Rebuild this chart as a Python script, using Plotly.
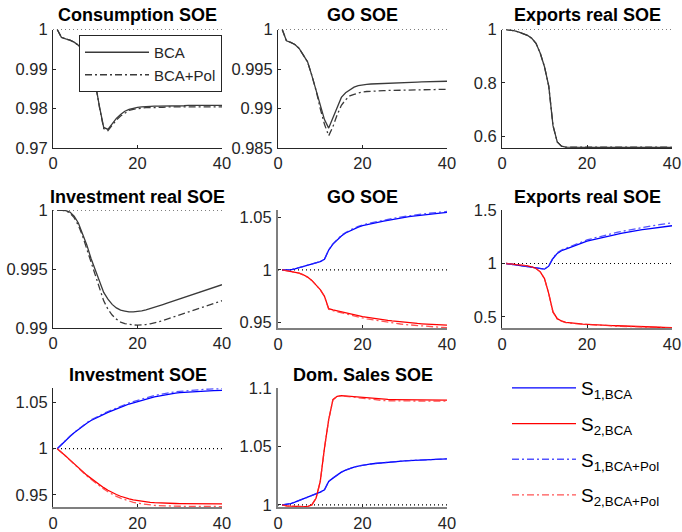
import plotly.graph_objects as go

# ---------------- data (t = 1..40) ----------------
T = list(range(1, 41))
X_TICKS = [0, 20, 40]
X_RANGE = [0, 40]
REF = 1.0

C_BCA = [1.0000, 0.9980, 0.9976, 0.9973, 0.9968, 0.9960, 0.9948, 0.9928, 0.9900, 0.9865,
         0.9805, 0.9752, 0.9747, 0.9762, 0.9775, 0.9785, 0.9793, 0.9798, 0.9801, 0.9803,
         0.9804, 0.9805, 0.9805, 0.9806, 0.9806, 0.9806, 0.9807, 0.9807, 0.9807, 0.9807,
         0.9807, 0.9808, 0.9808, 0.9808, 0.9808, 0.9808, 0.9808, 0.9808, 0.9808, 0.9808]
C_POL = [1.0000, 0.9980, 0.9976, 0.9973, 0.9968, 0.9960, 0.9948, 0.9928, 0.9900, 0.9864,
         0.9803, 0.9749, 0.9744, 0.9758, 0.9771, 0.9781, 0.9789, 0.9795, 0.9798, 0.9800,
         0.9801, 0.9802, 0.9802, 0.9803, 0.9803, 0.9803, 0.9804, 0.9804, 0.9804, 0.9804,
         0.9804, 0.9804, 0.9804, 0.9804, 0.9804, 0.9804, 0.9804, 0.9804, 0.9804, 0.9804]

G_BCA = [1.0000, 0.99857, 0.99836, 0.9981, 0.9976, 0.99676, 0.9959, 0.9942, 0.9924, 0.9903,
         0.9886, 0.98752, 0.9888, 0.9903, 0.9914, 0.9920, 0.9924, 0.9927, 0.9929, 0.9930,
         0.99305, 0.9931, 0.99313, 0.99316, 0.9932, 0.99322, 0.99324, 0.99326, 0.99328, 0.9933,
         0.99332, 0.99334, 0.99335, 0.99337, 0.99338, 0.9934, 0.99341, 0.99342, 0.99344, 0.99345]
G_POL = [1.0000, 0.99857, 0.99836, 0.9981, 0.9976, 0.99676, 0.9959, 0.9942, 0.9923, 0.9900,
         0.9880, 0.98655, 0.9877, 0.9892, 0.9904, 0.9911, 0.9916, 0.9918, 0.9920, 0.9921,
         0.99215, 0.9922, 0.99222, 0.99224, 0.99226, 0.99228, 0.9923, 0.99231, 0.99232, 0.99233,
         0.99234, 0.99235, 0.99236, 0.99237, 0.99238, 0.99239, 0.9924, 0.99241, 0.99242, 0.99243]

E_BCA = [1.000, 0.998, 0.995, 0.990, 0.985, 0.978, 0.967, 0.948, 0.911, 0.860,
         0.787, 0.639, 0.578, 0.562, 0.558, 0.5575, 0.5572, 0.5570, 0.5570, 0.5570,
         0.5571, 0.5572, 0.5573, 0.5574, 0.5575, 0.5575, 0.5576, 0.5576, 0.5576, 0.5576,
         0.5576, 0.5576, 0.5576, 0.5576, 0.5576, 0.5576, 0.5576, 0.5576, 0.5576, 0.5576]
E_POL = [1.000, 0.998, 0.995, 0.990, 0.985, 0.978, 0.967, 0.948, 0.911, 0.860,
         0.787, 0.639, 0.578, 0.562, 0.558, 0.5578, 0.5576, 0.5575, 0.5576, 0.5578,
         0.5580, 0.5581, 0.5582, 0.5582, 0.5582, 0.5582, 0.5581, 0.5581, 0.5580, 0.5580,
         0.5579, 0.5579, 0.5578, 0.5578, 0.5578, 0.5577, 0.5577, 0.5577, 0.5577, 0.5577]

IR_BCA = [1.0000, 1.0000, 0.99995, 0.99983, 0.99948, 0.9989, 0.99805, 0.99704, 0.99589, 0.99488,
          0.99388, 0.99302, 0.99244, 0.99200, 0.99170, 0.99152, 0.99144, 0.99136, 0.99137, 0.99140,
          0.99146, 0.99154, 0.99164, 0.99175, 0.99187, 0.99199, 0.99211, 0.99223, 0.99235, 0.99247,
          0.99259, 0.99271, 0.99283, 0.99295, 0.99307, 0.99319, 0.99331, 0.99343, 0.99355, 0.99367]
IR_POL = [1.0000, 1.0000, 0.99993, 0.99975, 0.99935, 0.9987, 0.9978, 0.9967, 0.9955, 0.9944,
          0.9933, 0.9923, 0.9916, 0.9911, 0.99075, 0.9905, 0.99038, 0.9903, 0.99026, 0.99024,
          0.99025, 0.99029, 0.99035, 0.99043, 0.99052, 0.99063, 0.99075, 0.99087, 0.99099, 0.99111,
          0.99123, 0.99135, 0.99147, 0.99159, 0.99171, 0.99183, 0.99195, 0.99207, 0.99219, 0.99231]

G1_BCA = [1.0000, 0.9997, 1.0000, 1.0010, 1.0022, 1.0030, 1.0040, 1.0053, 1.0066, 1.0078,
          1.0100, 1.0188, 1.0244, 1.0288, 1.0322, 1.0350, 1.0371, 1.0390, 1.0405, 1.0419,
          1.0429, 1.0438, 1.0446, 1.0454, 1.0462, 1.0470, 1.0478, 1.0485, 1.0492, 1.0499,
          1.0505, 1.0510, 1.0515, 1.0520, 1.0525, 1.0529, 1.0533, 1.0537, 1.0541, 1.0545]
G1_POL = [1.0000, 0.9997, 1.0000, 1.0010, 1.0022, 1.0030, 1.0040, 1.0053, 1.0066, 1.0078,
          1.0100, 1.0190, 1.0247, 1.0292, 1.0327, 1.0355, 1.0377, 1.0396, 1.0412, 1.0426,
          1.0437, 1.0446, 1.0455, 1.0463, 1.0471, 1.0479, 1.0487, 1.0494, 1.0501, 1.0508,
          1.0514, 1.0519, 1.0524, 1.0529, 1.0534, 1.0538, 1.0542, 1.0546, 1.0550, 1.0554]
G2_BCA = [1.0000, 0.9994, 0.9988, 0.9978, 0.9969, 0.9953, 0.9931, 0.9900, 0.9859, 0.9813,
          0.9750, 0.9631, 0.9619, 0.9609, 0.9601, 0.9594, 0.9585, 0.9575, 0.9565, 0.9556,
          0.9549, 0.9543, 0.9537, 0.9531, 0.9525, 0.9520, 0.9515, 0.9510, 0.9505, 0.9500,
          0.9497, 0.9494, 0.9491, 0.9488, 0.9485, 0.9483, 0.9481, 0.9479, 0.9477, 0.9475]
G2_POL = [1.0000, 0.9994, 0.9988, 0.9978, 0.9969, 0.9953, 0.9931, 0.9900, 0.9859, 0.9812,
          0.9748, 0.9627, 0.9613, 0.9602, 0.9593, 0.9585, 0.9575, 0.9564, 0.9553, 0.9543,
          0.9535, 0.9528, 0.9521, 0.9514, 0.9508, 0.9502, 0.9496, 0.9491, 0.9486, 0.9481,
          0.9477, 0.9473, 0.9469, 0.9466, 0.9463, 0.9460, 0.9458, 0.9456, 0.9454, 0.9452]

X1_BCA = [1.000, 0.994, 0.9875, 0.981, 0.975, 0.969, 0.9625, 0.956, 0.950, 0.947,
          0.975, 1.047, 1.094, 1.119, 1.134, 1.150, 1.166, 1.181, 1.196, 1.209,
          1.219, 1.229, 1.238, 1.247, 1.256, 1.264, 1.273, 1.281, 1.289, 1.297,
          1.303, 1.310, 1.316, 1.322, 1.328, 1.333, 1.338, 1.343, 1.348, 1.353]
X1_POL = [1.000, 0.994, 0.9875, 0.981, 0.975, 0.969, 0.9625, 0.956, 0.950, 0.947,
          0.978, 1.052, 1.100, 1.126, 1.142, 1.159, 1.175, 1.191, 1.206, 1.220,
          1.231, 1.242, 1.252, 1.262, 1.272, 1.281, 1.290, 1.299, 1.307, 1.315,
          1.323, 1.330, 1.337, 1.344, 1.351, 1.357, 1.363, 1.369, 1.375, 1.381]
X2_BCA = [1.000, 0.997, 0.994, 0.990, 0.984, 0.978, 0.969, 0.953, 0.922, 0.859,
          0.719, 0.547, 0.484, 0.4625, 0.450, 0.444, 0.441, 0.4375, 0.434, 0.431,
          0.429, 0.427, 0.425, 0.4235, 0.422, 0.420, 0.418, 0.416, 0.414, 0.4125,
          0.411, 0.410, 0.409, 0.4075, 0.406, 0.405, 0.404, 0.403, 0.4015, 0.400]
X2_POL = [1.000, 0.997, 0.994, 0.990, 0.984, 0.978, 0.969, 0.953, 0.922, 0.858,
          0.717, 0.545, 0.482, 0.460, 0.448, 0.442, 0.438, 0.435, 0.432, 0.429,
          0.427, 0.425, 0.423, 0.421, 0.419, 0.417, 0.415, 0.413, 0.411, 0.410,
          0.409, 0.408, 0.407, 0.405, 0.404, 0.403, 0.402, 0.401, 0.400, 0.399]

I1_BCA = [1.0000, 1.0046, 1.0089, 1.0132, 1.0171, 1.0207, 1.0243, 1.0275, 1.0304, 1.0329,
          1.0351, 1.0371, 1.0391, 1.0411, 1.0429, 1.0446, 1.0464, 1.0482, 1.0496, 1.0510,
          1.0523, 1.0536, 1.0547, 1.0558, 1.0568, 1.0577, 1.0585, 1.0593, 1.0599, 1.0604,
          1.0608, 1.0612, 1.0615, 1.0618, 1.0621, 1.0623, 1.0625, 1.0627, 1.0628, 1.0629]
I1_POL = [1.0000, 1.0047, 1.0091, 1.0134, 1.0174, 1.0211, 1.0247, 1.0280, 1.0310, 1.0336,
          1.0359, 1.0380, 1.0401, 1.0421, 1.0440, 1.0458, 1.0476, 1.0494, 1.0509, 1.0523,
          1.0537, 1.0550, 1.0562, 1.0573, 1.0583, 1.0592, 1.0600, 1.0608, 1.0614, 1.0619,
          1.0624, 1.0628, 1.0632, 1.0635, 1.0638, 1.0641, 1.0643, 1.0645, 1.0647, 1.0648]
I2_BCA = [1.0000, 0.9964, 0.9921, 0.9879, 0.9836, 0.9793, 0.9750, 0.9714, 0.9679, 0.9643,
          0.9611, 0.9579, 0.9551, 0.9525, 0.9505, 0.9486, 0.9470, 0.9457, 0.9447, 0.9439,
          0.9432, 0.9425, 0.9420, 0.9417, 0.9414, 0.9412, 0.9410, 0.9409, 0.9408, 0.9407,
          0.9406, 0.9406, 0.9405, 0.9405, 0.9405, 0.9404, 0.9404, 0.9404, 0.9404, 0.9404]
I2_POL = [1.0000, 0.9963, 0.9919, 0.9876, 0.9832, 0.9788, 0.9744, 0.9707, 0.9670, 0.9632,
          0.9598, 0.9564, 0.9534, 0.9507, 0.9485, 0.9465, 0.9448, 0.9433, 0.9421, 0.9411,
          0.9403, 0.9396, 0.9391, 0.9387, 0.9384, 0.9382, 0.9380, 0.9379, 0.9378, 0.9377,
          0.9377, 0.9376, 0.9376, 0.9376, 0.9375, 0.9375, 0.9375, 0.9375, 0.9375, 0.9375]

D1_BCA = [1.0000, 1.0003, 1.0011, 1.0023, 1.0037, 1.0051, 1.0066, 1.0080, 1.0094, 1.0109,
          1.0129, 1.0200, 1.0229, 1.0257, 1.0280, 1.0297, 1.0311, 1.0323, 1.0332, 1.0340,
          1.0345, 1.0350, 1.0354, 1.0358, 1.0363, 1.0366, 1.0369, 1.0372, 1.0375, 1.0377,
          1.0379, 1.0381, 1.0383, 1.0385, 1.0386, 1.0388, 1.0390, 1.0391, 1.0393, 1.0394]
D1_POL = [1.0000, 1.0003, 1.0011, 1.0023, 1.0037, 1.0051, 1.0066, 1.0080, 1.0094, 1.0109,
          1.0129, 1.0201, 1.0230, 1.0258, 1.0281, 1.0298, 1.0312, 1.0324, 1.0333, 1.0341,
          1.0346, 1.0351, 1.0355, 1.0359, 1.0363, 1.0366, 1.0369, 1.0372, 1.0375, 1.0377,
          1.0379, 1.0381, 1.0383, 1.0385, 1.0386, 1.0388, 1.0390, 1.0391, 1.0393, 1.0394]
D2_BCA = [1.0000, 0.9991, 0.9989, 0.9986, 0.9986, 0.9986, 0.9986, 1.0000, 1.0057, 1.0200,
          1.0486, 1.0729, 1.0900, 1.0929, 1.0934, 1.0931, 1.0927, 1.0923, 1.0918, 1.0914,
          1.0911, 1.0909, 1.0907, 1.0905, 1.0903, 1.0902, 1.0901, 1.0901, 1.0900, 1.0900,
          1.0899, 1.0899, 1.0898, 1.0898, 1.0897, 1.0897, 1.0897, 1.0897, 1.0897, 1.0897]
D2_POL = [1.0000, 0.9991, 0.9989, 0.9986, 0.9986, 0.9986, 0.9986, 1.0000, 1.0057, 1.0200,
          1.0486, 1.0729, 1.0900, 1.0929, 1.0933, 1.0929, 1.0924, 1.0918, 1.0912, 1.0907,
          1.0903, 1.0899, 1.0896, 1.0894, 1.0892, 1.0891, 1.0890, 1.0889, 1.0889, 1.0888,
          1.0888, 1.0888, 1.0888, 1.0888, 1.0888, 1.0888, 1.0888, 1.0888, 1.0888, 1.0888]

TITLES = ["Consumption SOE", "GO SOE", "Exports real SOE",
          "Investment real SOE", "GO SOE", "Exports real SOE",
          "Investment SOE", "Dom. Sales SOE"]
Y_RANGES = [[0.97, 1.0], [0.985, 1.0], [0.555, 1.0],
            [0.99, 1.0], [0.9448, 1.0568], [0.397, 1.5],
            [0.937, 1.0655], [0.9982, 1.1]]
Y_TICKS = [[0.97, 0.98, 0.99, 1.0], [0.985, 0.99, 0.995, 1.0], [0.6, 0.8, 1.0],
           [0.99, 0.995, 1.0], [0.95, 1.0, 1.05], [0.5, 1.0, 1.5],
           [0.95, 1.0, 1.05], [1.0, 1.05, 1.1]]
Y_TICKTEXT = [["0.97", "0.98", "0.99", "1"], ["0.985", "0.99", "0.995", "1"], ["0.6", "0.8", "1"],
              ["0.99", "0.995", "1"], ["0.95", "1", "1.05"], ["0.5", "1", "1.5"],
              ["0.95", "1", "1.05"], ["1", "1.05", "1.1"]]

BLACK_SERIES = [(C_BCA, C_POL), (G_BCA, G_POL), (E_BCA, E_POL), (IR_BCA, IR_POL)]
COLOR_SERIES = [(G1_BCA, G2_BCA, G1_POL, G2_POL), (X1_BCA, X2_BCA, X1_POL, X2_POL),
                (I1_BCA, I2_BCA, I1_POL, I2_POL), (D1_BCA, D2_BCA, D1_POL, D2_POL)]
BW_NAMES = ["BCA", "BCA+Pol"]
S_NAMES = ["S<sub>1,BCA</sub>", "S<sub>2,BCA</sub>", "S<sub>1,BCA+Pol</sub>", "S<sub>2,BCA+Pol</sub>"]

# ---------------- layout geometry (pixels) ----------------
W, H = 682, 532
COLS = [(53, 222), (278, 447), (502, 672)]
ROWS = [(29.5, 148), (210, 328), (388, 507)]
TITLE_Y = [15, 197, 375]
FONT = "Liberation Sans, Arial, Helvetica, sans-serif"
AXC = "#262626"
DASHDOT = "7px,3px,2px,3px"
TICK_SIZE = 16.5

fig = go.Figure()

def ax_id(i):
    return "" if i == 1 else str(i)

for k in range(8):
    i = k + 1
    xa, ya = "x" + ax_id(i), "y" + ax_id(i)
    fig.add_trace(go.Scatter(x=X_RANGE, y=[REF, REF], mode="lines", xaxis=xa, yaxis=ya,
                             line=dict(color="black", width=1.1, dash="1px,3px"),
                             showlegend=False, hoverinfo="skip"))
    if k < 4:
        bca, pol = BLACK_SERIES[k]
        fig.add_trace(go.Scatter(x=T, y=bca, mode="lines", xaxis=xa, yaxis=ya, name=BW_NAMES[0],
                                 line=dict(color="#3a3a3a", width=1.3), showlegend=(k == 0),
                                 legend="legend"))
        fig.add_trace(go.Scatter(x=T, y=pol, mode="lines", xaxis=xa, yaxis=ya, name=BW_NAMES[1],
                                 line=dict(color="#3a3a3a", width=1.3, dash=DASHDOT),
                                 showlegend=(k == 0), legend="legend"))
    else:
        s1b, s2b, s1p, s2p = COLOR_SERIES[k - 4]
        specs = [(s1b, "rgb(0,0,255)", "solid"), (s2b, "rgb(255,0,0)", "solid"),
                 (s1p, "rgba(40,40,255,0.8)", DASHDOT), (s2p, "rgba(255,40,40,0.8)", DASHDOT)]
        for j, (ys, col, dash) in enumerate(specs):
            fig.add_trace(go.Scatter(x=T, y=ys, mode="lines", xaxis=xa, yaxis=ya, name=S_NAMES[j],
                                     line=dict(color=col, width=1.3, dash=dash),
                                     showlegend=(k == 4), legend="legend2",
                                     legendgroup="g%d" % j))

layout = dict(width=W, height=H, margin=dict(l=0, r=0, t=0, b=0, autoexpand=False),
              template="none",
              paper_bgcolor="white", plot_bgcolor="white",
              font=dict(family=FONT, size=15, color=AXC), annotations=[])

for k in range(8):
    i = k + 1
    r, c = divmod(k, 3)
    x0, x1 = COLS[c]
    y0, y1 = ROWS[r]
    thick = k >= 4
    xlw = 2 if thick else 1
    xlc = "#7f7f7f" if thick else AXC
    ylw = 2 if k in (4, 7) else 1
    ylc = "#7f7f7f" if k in (4, 7) else AXC
    layout["xaxis" + ax_id(i)] = dict(
        domain=[x0 / W, x1 / W], anchor="y" + ax_id(i), range=X_RANGE, automargin=False,
        tickvals=X_TICKS, ticktext=[str(v) for v in X_TICKS], ticks="inside", ticklen=3,
        tickcolor=AXC, showline=True, linecolor=xlc, linewidth=xlw, showgrid=False,
        zeroline=False, tickfont=dict(size=TICK_SIZE, color=AXC), ticklabelstandoff=0)
    layout["yaxis" + ax_id(i)] = dict(
        domain=[1 - y1 / H, 1 - y0 / H], anchor="x" + ax_id(i), range=Y_RANGES[k], automargin=False,
        tickvals=Y_TICKS[k], ticktext=Y_TICKTEXT[k], ticks="inside", ticklen=3,
        tickcolor=AXC, showline=True, linecolor=ylc, linewidth=ylw, showgrid=False,
        zeroline=False, tickfont=dict(size=TICK_SIZE, color=AXC), ticklabelstandoff=1)
    layout["annotations"].append(dict(
        text="<b>%s</b>" % TITLES[k], xref="paper", yref="paper",
        x=(x0 + x1) / 2 / W, y=1 - TITLE_Y[r] / H, xanchor="center", yanchor="middle",
        showarrow=False, font=dict(size=18, color="black", family=FONT)))

layout["legend"] = dict(x=79 / W, y=1 - 35 / H, xanchor="left", yanchor="top",
                        bgcolor="white", bordercolor=AXC, borderwidth=1,
                        font=dict(size=15, color=AXC, family=FONT), itemwidth=64,
                        tracegroupgap=0)
layout["legend2"] = dict(x=507 / W, y=1 - 369 / H, xanchor="left", yanchor="top",
                         bgcolor="rgba(0,0,0,0)", borderwidth=0,
                         font=dict(size=19, color="black", family=FONT), itemwidth=64,
                         tracegroupgap=8)

fig.update_layout(**layout)
fig.write_html("out.html", config={"displayModeBar": False},
               post_script="document.body.style.margin='0px';document.body.style.overflow='hidden';")
